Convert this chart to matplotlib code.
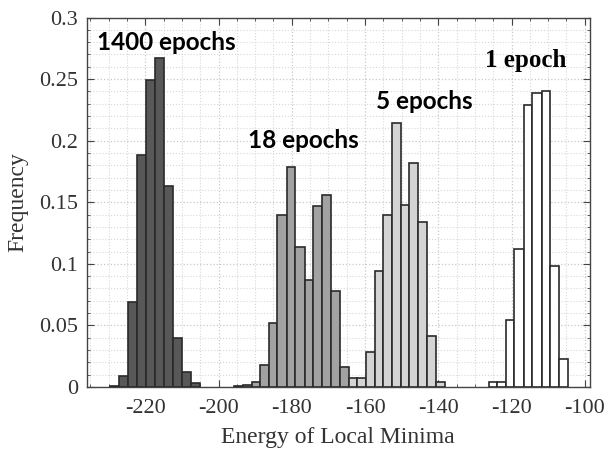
import matplotlib.pyplot as plt
import numpy as np
from matplotlib.ticker import MultipleLocator

# bin edges (energy) and frequencies
edges_1400 = [-229.6, -227.1, -224.7, -222.2, -219.8, -217.3, -214.8, -212.4, -209.9, -207.5, -205.0]
freq_1400 = [0.001, 0.009, 0.069, 0.188, 0.249, 0.267, 0.163, 0.040, 0.012, 0.003]

edges_18 = [-195.9, -193.3, -190.9, -188.6, -186.3, -183.9, -181.3, -179.0, -176.5,
            -174.1, -171.7, -169.3, -166.8, -164.4, -162.0, -159.8]
freq_18 = [0.001, 0.002, 0.004, 0.018, 0.052, 0.140, 0.179, 0.114, 0.087,
           0.147, 0.156, 0.078, 0.016, 0.002, 0.002]

edges_5 = [-164.5, -162.1, -159.7, -157.4, -155.0, -152.7, -150.3, -147.9,
           -145.4, -143.0, -140.6, -138.2]
freq_5 = [0.0076, 0.0076, 0.028, 0.094, 0.140, 0.214, 0.148, 0.182, 0.134, 0.041, 0.004]

edges_1 = [-126.1, -123.9, -121.5, -119.2, -116.7, -114.3, -111.8, -109.4, -106.9, -104.5]
freq_1 = [0.0043, 0.0043, 0.054, 0.112, 0.229, 0.2385, 0.2406, 0.098, 0.023]

xtick_vals = [-220, -200, -180, -160, -140, -120, -100]
xtick_labels = ['-220', '-200', '-180', '-160', '-140', '-120', '-100']
ytick_vals = [0, 0.05, 0.1, 0.15, 0.2, 0.25, 0.3]
ytick_labels = ['0', '0.05', '0.1', '0.15', '0.2', '0.25', '0.3']

fig = plt.figure(figsize=(6.08, 4.55), dpi=100)
ax = fig.add_axes([0.1426, 0.1495, 0.8270, 0.812])

series = [
    (edges_1400, freq_1400, '#585858'),
    (edges_18, freq_18, '#a2a2a2'),
    (edges_5, freq_5, '#d4d4d4'),
    (edges_1, freq_1, '#ffffff'),
]
for edges, freq, col in series:
    e = np.array(edges)
    ax.bar(e[:-1], freq, width=np.diff(e), align='edge', color=col,
           edgecolor='#2a2a2a', linewidth=1.2, zorder=3)

ax.set_xlim(-236, -98.7)
ax.set_ylim(0, 0.3)
ax.set_xticks(xtick_vals)
ax.set_xticklabels(xtick_labels)
ax.set_yticks(ytick_vals)
ax.set_yticklabels(ytick_labels)
ax.xaxis.set_minor_locator(MultipleLocator(5))
ax.yaxis.set_minor_locator(MultipleLocator(0.01))
ax.tick_params(which='both', direction='in', top=True, right=True, color='#444444')
ax.tick_params(which='major', length=5, labelsize=16, pad=6)
ax.tick_params(axis='x', which='major', pad=9)
ax.tick_params(which='minor', length=2.5)
for lab in ax.get_xticklabels() + ax.get_yticklabels():
    lab.set_family('Liberation Serif')
    lab.set_color('#333333')

ax.grid(which='major', color='#c8c8c8', linestyle=':', linewidth=0.9, zorder=0)
ax.grid(which='minor', color='#d8d8d8', linestyle=':', linewidth=0.8, zorder=0)
ax.set_axisbelow(True)
for sp in ax.spines.values():
    sp.set_color('#444444')
    sp.set_linewidth(1.0)

ax.set_xlabel('Energy of Local Minima', family='Liberation Serif', fontsize=17, color='#333333', labelpad=6)
ax.set_ylabel('Frequency', family='Liberation Serif', fontsize=17, color='#333333', labelpad=8)

ax.text(-233.1, 0.280, '1400 epochs', family='Lato', fontweight='bold', fontsize=17.5, va='center', ha='left', zorder=5)
ax.text(-191.9, 0.2005, '18 epochs', family='Lato', fontweight='bold', fontsize=17.5, va='center', ha='left', zorder=5)
ax.text(-157.0, 0.232, '5 epochs', family='Lato', fontweight='bold', fontsize=17.5, va='center', ha='left', zorder=5)
ax.text(-127.3, 0.265, '1 epoch', family='Liberation Serif', fontweight='bold', fontsize=18, va='center', ha='left', zorder=5)

fig.savefig('out.png', dpi=100)
